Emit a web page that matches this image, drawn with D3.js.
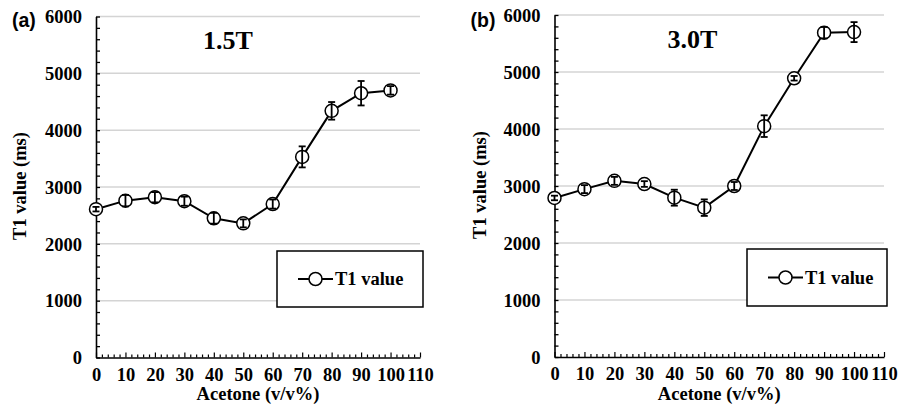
<!DOCTYPE html>
<html>
<head>
<meta charset="utf-8">
<script src="https://cdn.jsdelivr.net/npm/d3@7"></script>
<style>
  html, body { margin: 0; padding: 0; background: #fff; }
  svg { display: block; }
</style>
</head>
<body>
<svg id="chart" width="898" height="405"></svg>
<script>
// Acetone concentration (v/v%)
const acetone = [0, 10, 20, 30, 40, 50, 60, 70, 80, 90, 100];
// T1 relaxation times (ms) at 1.5T and 3.0T, with error bar half-widths
const t1At15 = [2610, 2760, 2820, 2750, 2450, 2360, 2700, 3530, 4340, 4650, 4700];
const err15  = [40, 100, 90, 80, 95, 70, 80, 185, 155, 215, 75];
const t1At30 = [2790, 2945, 3090, 3035, 2795, 2620, 3000, 4050, 4890, 5690, 5700];
const err30  = [40, 70, 70, 50, 140, 145, 70, 190, 40, 100, 175];

const xTicks = [0, 10, 20, 30, 40, 50, 60, 70, 80, 90, 100, 110];
const yTicks = [0, 1000, 2000, 3000, 4000, 5000, 6000];
const panelTags = ["(a)", "(b)"];
const fieldLabels = ["1.5T", "3.0T"];
const seriesName = "T1 value";
const xTitle = "Acetone (v/v%)";
const yTitle = "T1 value (ms)";

const SERIF = '"Liberation Serif", "Times New Roman", Times, serif';
const SANS = '"Liberation Sans", Arial, Helvetica, sans-serif';

const svg = d3.select("#chart");

function serif(sel, size) {
  return sel.style("font-family", SERIF).style("font-weight", "bold")
    .style("font-size", size + "px").attr("fill", "#000");
}

const panels = [
  { tag: panelTags[0], field: fieldLabels[0], values: t1At15, errors: err15,
    left: 96, right: 420, top: 16.5, bottom: 357.5,
    tagX: 12, fieldX: 228, fieldY: 49, yTitleX: 26,
    legend: { x: 277, y: 251, w: 146, h: 56 } },
  { tag: panelTags[1], field: fieldLabels[1], values: t1At30, errors: err30,
    left: 554.5, right: 884, top: 15, bottom: 357,
    tagX: 470.5, fieldX: 692.5, fieldY: 48, yTitleX: 486,
    legend: { x: 747, y: 249, w: 140, h: 57 } }
];

panels.forEach(p => {
  const x = d3.scaleLinear().domain([0, 110]).range([p.left, p.right]);
  const y = d3.scaleLinear().domain([0, 6000]).range([p.bottom, p.top]);
  const g = svg.append("g");

  // horizontal gridlines
  g.append("g").selectAll("line")
    .data(yTicks.filter(v => v > 0))
    .join("line")
    .attr("x1", p.left).attr("x2", p.right)
    .attr("y1", d => y(d)).attr("y2", d => y(d))
    .attr("stroke", "#d4d4d4").attr("stroke-width", 1.5);

  // y axis: minor ticks every 200 drawn inside, labels at every 1000
  const yAxis = d3.axisLeft(y)
    .tickValues(d3.range(0, 6001, 200))
    .tickSizeInner(-4).tickSizeOuter(0)
    .tickFormat(d => yTicks.includes(d) ? d : "");
  const ya = g.append("g").attr("transform", `translate(${p.left},0)`).call(yAxis);
  ya.select(".domain").attr("stroke", "#000").attr("stroke-width", 1.6);
  ya.selectAll(".tick line").attr("stroke", "#000").attr("stroke-width", 1.3);
  ya.selectAll(".tick").filter(d => !yTicks.includes(d)).select("text").remove();
  serif(ya.selectAll(".tick text"), 18.5)
    .attr("x", -14).attr("dy", "0.34em");

  // x axis: minor ticks every 2, taller ticks every 10, all pointing inward
  const xAxis = d3.axisBottom(x)
    .tickValues(d3.range(0, 111, 2))
    .tickSizeInner(0).tickSizeOuter(0)
    .tickFormat(d => xTicks.includes(d) ? d : "");
  const xa = g.append("g").attr("transform", `translate(0,${p.bottom})`).call(xAxis);
  xa.select(".domain").attr("stroke", "#000").attr("stroke-width", 1.6);
  xa.selectAll(".tick line")
    .attr("stroke", "#000").attr("stroke-width", 1.2)
    .attr("y2", d => xTicks.includes(d) ? -5 : -3);
  xa.selectAll(".tick").filter(d => !xTicks.includes(d)).select("text").remove();
  serif(xa.selectAll(".tick text"), 18.5)
    .attr("y", 23).attr("dy", 0);

  // axis titles
  serif(g.append("text"), 18.5)
    .attr("text-anchor", "middle")
    .attr("x", (p.left + p.right) / 2).attr("y", 399.5)
    .text(xTitle);
  serif(g.append("text"), 18.5)
    .attr("text-anchor", "middle")
    .attr("transform", `translate(${p.yTitleX},${(p.top + p.bottom) / 2 - 1}) rotate(-90)`)
    .text(yTitle);

  // panel tag and field strength
  g.append("text")
    .style("font-family", SANS).style("font-weight", "bold").style("font-size", "19.5px")
    .attr("fill", "#000")
    .attr("x", p.tagX).attr("y", 27).text(p.tag);
  serif(g.append("text"), 26)
    .attr("text-anchor", "middle")
    .attr("x", p.fieldX).attr("y", p.fieldY).text(p.field);

  const pts = acetone.map((a, i) => ({ a, v: p.values[i], e: p.errors[i] }));

  // connecting line
  g.append("path").datum(pts)
    .attr("fill", "none").attr("stroke", "#000").attr("stroke-width", 2)
    .attr("d", d3.line().x(d => x(d.a)).y(d => y(d.v)));

  // open circle markers
  g.append("g").selectAll("circle").data(pts).join("circle")
    .attr("cx", d => x(d.a)).attr("cy", d => y(d.v)).attr("r", 6.5)
    .attr("fill", "#fff").attr("stroke", "#000").attr("stroke-width", 1.5);

  // error bars
  const eb = g.append("g").attr("stroke", "#000").attr("stroke-width", 1.8);
  pts.forEach(d => {
    const cx = x(d.a), y1 = y(d.v + d.e), y2 = y(d.v - d.e);
    eb.append("line").attr("x1", cx).attr("x2", cx).attr("y1", y1).attr("y2", y2);
    eb.append("line").attr("x1", cx - 3.5).attr("x2", cx + 3.5).attr("y1", y1).attr("y2", y1);
    eb.append("line").attr("x1", cx - 3.5).attr("x2", cx + 3.5).attr("y1", y2).attr("y2", y2);
  });

  // legend
  const L = p.legend;
  const lg = g.append("g");
  lg.append("rect").attr("x", L.x).attr("y", L.y).attr("width", L.w).attr("height", L.h)
    .attr("fill", "#fff").attr("stroke", "#000").attr("stroke-width", 1.5);
  const ly = L.y + L.h / 2;
  lg.append("line").attr("x1", L.x + 21).attr("x2", L.x + 56).attr("y1", ly).attr("y2", ly)
    .attr("stroke", "#000").attr("stroke-width", 2);
  lg.append("circle").attr("cx", L.x + 38.5).attr("cy", ly).attr("r", 6.5)
    .attr("fill", "#fff").attr("stroke", "#000").attr("stroke-width", 1.5);
  serif(lg.append("text"), 18.5)
    .attr("x", L.x + 58).attr("y", ly + 6).text(seriesName);
});
</script>
</body>
</html>
